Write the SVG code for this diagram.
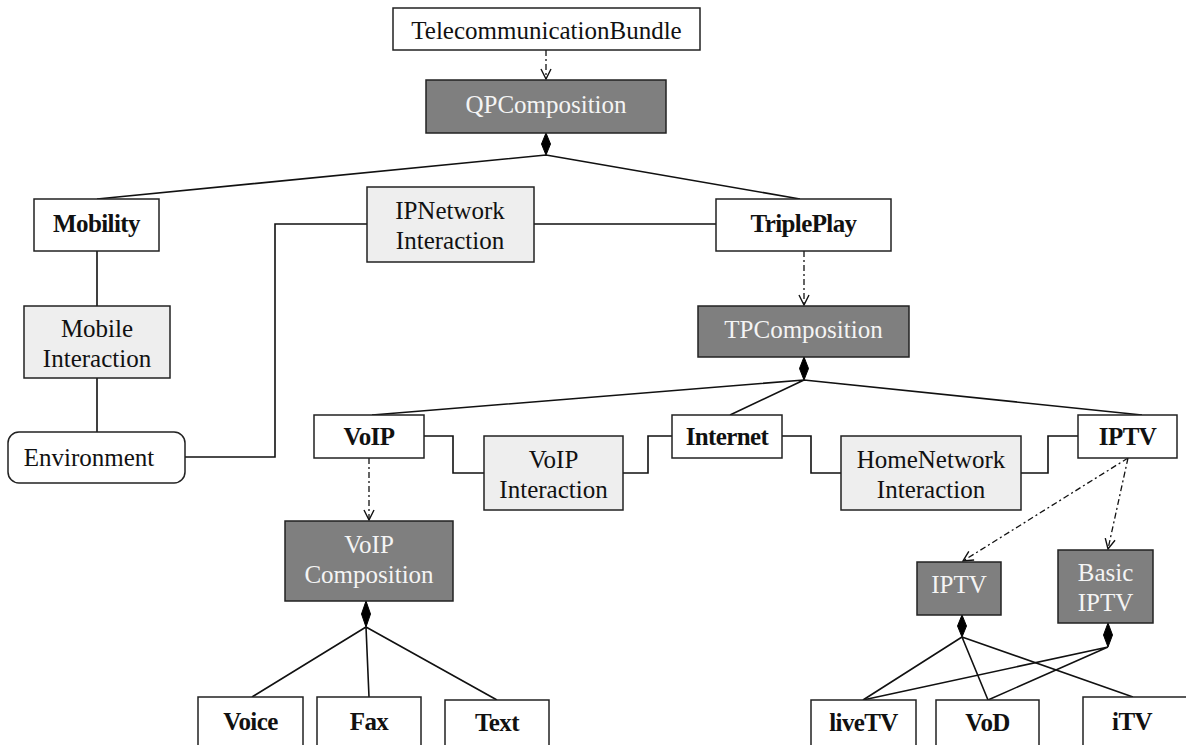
<svg xmlns="http://www.w3.org/2000/svg" width="1186" height="745" viewBox="0 0 1186 745">
<defs>
<style>
.box{fill:#fff;stroke:#222;stroke-width:1.5}
.dark{fill:#7f7f7f;stroke:#222;stroke-width:1.5}
.light{fill:#eeeeee;stroke:#222;stroke-width:1.5}
text{font-family:"Liberation Serif","Times New Roman",serif;font-size:25px;text-anchor:middle;fill:#111}
.b{font-weight:bold;font-size:25px;letter-spacing:-0.6px}
.w{fill:#f4f4f4}
.ln{fill:none;stroke:#111;stroke-width:1.6}
.dd{fill:none;stroke:#111;stroke-width:1.3;stroke-dasharray:6 3 2 3;marker-end:url(#open)}
.dia{fill:#000;stroke:#000;stroke-width:1}
</style>
<marker id="open" viewBox="0 0 12 12" refX="11" refY="6" markerWidth="12" markerHeight="12" markerUnits="userSpaceOnUse" orient="auto">
<path d="M1,1 L11,6 L1,11" fill="none" stroke="#111" stroke-width="1.4"/>
</marker>
</defs>

<g id="connectors">
<path class="dd" d="M546,50 L546,79"/>
<path class="dd" d="M804,251 L804,305"/>
<path class="dd" d="M369,458 L369,520"/>
<path class="dd" d="M1128,458 L963,561"/>
<path class="dd" d="M1128,458 L1108,549"/>
<path class="dia" d="M546,133 L550.5,144 L546,155 L541.5,144 Z"/>
<path class="dia" d="M804,357 L808.5,368.5 L804,380 L799.5,368.5 Z"/>
<path class="dia" d="M366,601 L370.5,614 L366,627 L361.5,614 Z"/>
<path class="dia" d="M962,615 L966.5,626 L962,637 L957.5,626 Z"/>
<path class="dia" d="M1108,623 L1112.5,635 L1108,647 L1103.5,635 Z"/>
<path class="ln" d="M546,155 L97,199 M546,155 L800,199"/>
<path class="ln" d="M804,380 L372,415 M804,380 L730,415 M804,380 L1142,415"/>
<path class="ln" d="M366,627 L252,697 M366,627 L369,697 M366,627 L497,700"/>
<path class="ln" d="M962,637 L863,700 M962,637 L988,700 M962,637 L1133,697"/>
<path class="ln" d="M1108,647 L863,700 M1108,647 L988,700"/>
<path class="ln" d="M97,251 L97,306 M97,378 L97,432"/>
<path class="ln" d="M185,457 L275,457 L275,224 L367,224 M534,224 L716,224"/>
<path class="ln" d="M424,436 L453,436 L453,473 L484,473 M623,473 L648,473 L648,436 L672,436"/>
<path class="ln" d="M782,436 L811,436 L811,473 L841,473 M1021,473 L1048,473 L1048,436 L1078,436"/>
</g>

<g id="TelecommunicationBundle"><rect class="box" x="393" y="8" width="307" height="42"/><text x="546.5" y="39">TelecommunicationBundle</text></g>
<g id="QPComposition"><rect class="dark" x="426" y="80" width="240" height="53"/><text class="w" x="546" y="113">QPComposition</text></g>
<g id="Mobility"><rect class="box" x="34" y="199" width="125" height="52"/><text class="b" x="96.5" y="232">Mobility</text></g>
<g id="MobileInteraction"><rect class="light" x="24" y="306" width="146" height="72"/><text x="97" y="337">Mobile</text><text x="97" y="367">Interaction</text></g>
<g id="Environment"><rect class="box" x="8" y="432" width="177" height="51" rx="11"/><text x="89" y="466">Environment</text></g>
<g id="IPNetworkInteraction"><rect class="light" x="367" y="187" width="167" height="75"/><text x="450" y="219">IPNetwork</text><text x="450" y="249">Interaction</text></g>
<g id="TriplePlay"><rect class="box" x="716" y="199" width="175" height="52"/><text class="b" x="803.5" y="232">TriplePlay</text></g>
<g id="TPComposition"><rect class="dark" x="698" y="306" width="211" height="51"/><text class="w" x="803.5" y="338">TPComposition</text></g>
<g id="VoIP"><rect class="box" x="314" y="415" width="110" height="43"/><text class="b" x="369" y="445">VoIP</text></g>
<g id="VoIPInteraction"><rect class="light" x="484" y="436" width="139" height="74"/><text x="553.5" y="468">VoIP</text><text x="553.5" y="498">Interaction</text></g>
<g id="Internet"><rect class="box" x="672" y="415" width="110" height="43"/><text class="b" x="727" y="445">Internet</text></g>
<g id="HomeNetworkInteraction"><rect class="light" x="841" y="436" width="180" height="74"/><text x="931" y="468">HomeNetwork</text><text x="931" y="498">Interaction</text></g>
<g id="IPTV"><rect class="box" x="1078" y="415" width="99" height="43"/><text class="b" x="1127.5" y="445">IPTV</text></g>
<g id="VoIPComposition"><rect class="dark" x="285" y="521" width="168" height="80"/><text class="w" x="369" y="553">VoIP</text><text class="w" x="369" y="583">Composition</text></g>
<g id="IPTVComposition"><rect class="dark" x="917" y="562" width="84" height="53"/><text class="w" x="959" y="593">IPTV</text></g>
<g id="BasicIPTV"><rect class="dark" x="1058" y="550" width="95" height="73"/><text class="w" x="1105.5" y="581">Basic</text><text class="w" x="1105.5" y="611">IPTV</text></g>
<g id="Voice"><rect class="box" x="198" y="697" width="105" height="60"/><text class="b" x="250.5" y="730">Voice</text></g>
<g id="Fax"><rect class="box" x="317" y="697" width="104" height="60"/><text class="b" x="369" y="730">Fax</text></g>
<g id="Text"><rect class="box" x="445" y="700" width="104" height="60"/><text class="b" x="497" y="731">Text</text></g>
<g id="liveTV"><rect class="box" x="811" y="700" width="105" height="60"/><text class="b" x="863.5" y="731">liveTV</text></g>
<g id="VoD"><rect class="box" x="936" y="700" width="103" height="60"/><text class="b" x="987.5" y="731">VoD</text></g>
<g id="iTV"><rect class="box" x="1083" y="697" width="110" height="60"/><text class="b" x="1132" y="730">iTV</text></g>
</svg>
